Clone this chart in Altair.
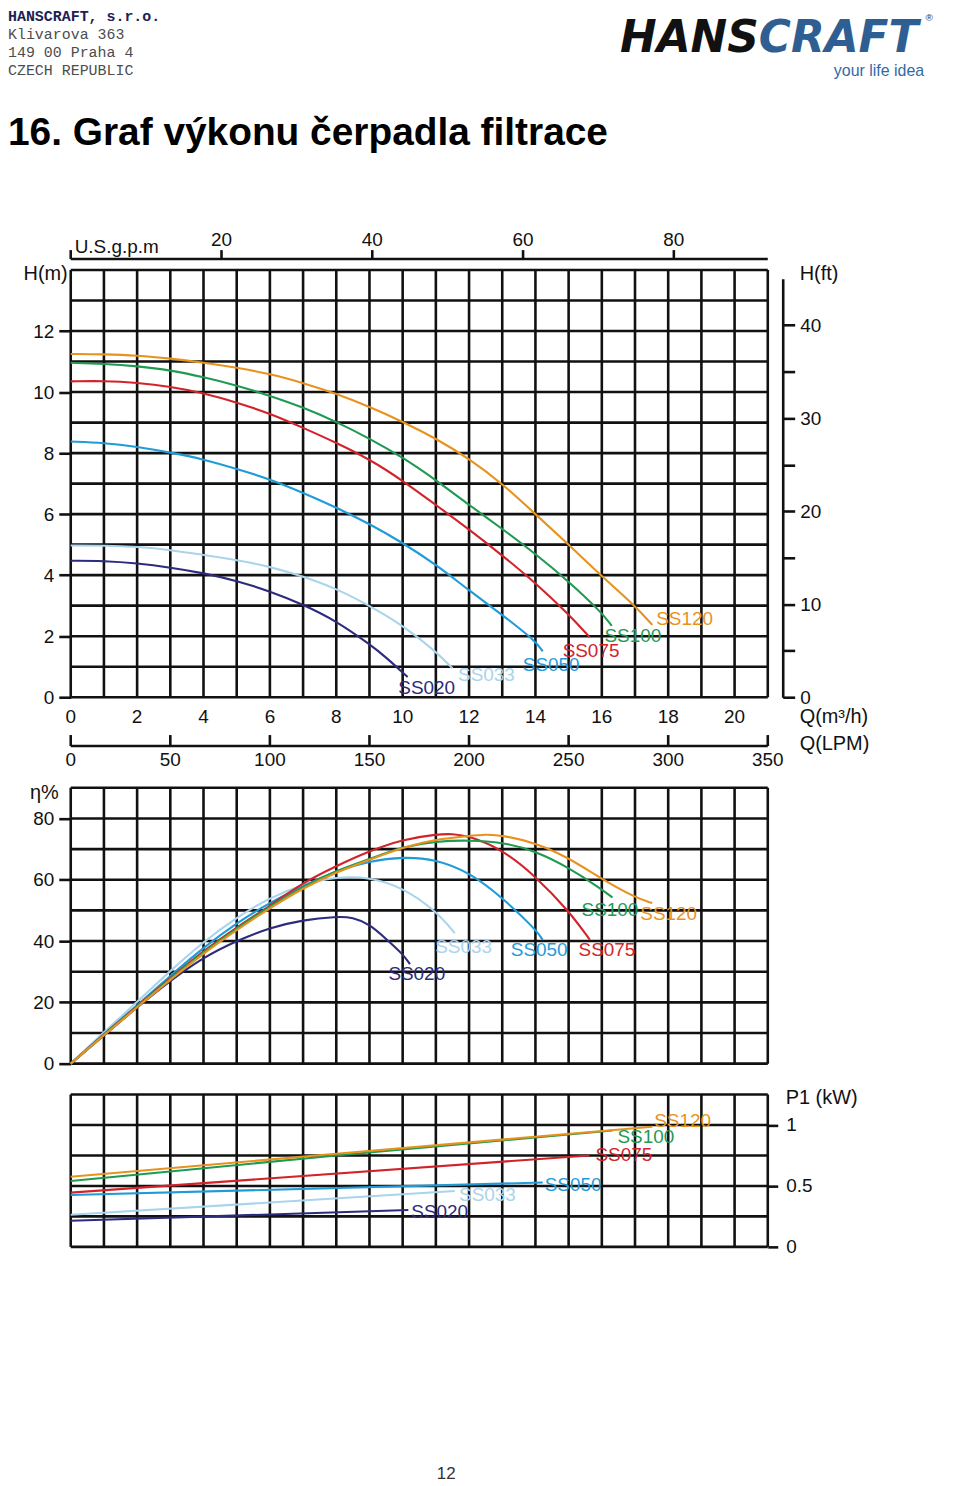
import altair as alt
import pandas as pd

# ---------------- data ----------------
PUMPS = ["SS020", "SS033", "SS050", "SS075", "SS100", "SS120"]
COLORS = ["#2d2b7c", "#a9d4ec", "#1f9bd7", "#d2232a", "#1f9a52", "#e8921e"]

# H-Q curves (Q in m3/h, H in m)
HQ_Q = {
    "SS020": [0, 1, 2, 3, 4, 5, 6, 7, 8, 9, 9.5, 10.15],
    "SS033": [0, 1, 2, 3, 4, 5, 6, 7, 8, 9, 10, 11, 11.5],
    "SS050": [0, 1, 2, 3, 4, 5, 6, 7, 8, 9, 10, 11, 12, 13, 14, 14.22],
    "SS075": [0, 1, 2, 3, 4, 5, 6, 7, 8, 9, 10, 11, 12, 13, 14, 15, 15.63],
    "SS100": [0, 1, 2, 3, 4, 5, 6, 7, 8, 9, 10, 11, 12, 13, 14, 15, 16, 16.3],
    "SS120": [0, 1, 2, 3, 4, 5, 6, 7, 8, 9, 10, 11, 12, 13, 14, 15, 16, 17, 17.52],
}
HQ_H = {
    "SS020": [4.47, 4.47, 4.39, 4.25, 4.07, 3.82, 3.47, 3.04, 2.5, 1.74, 1.31, 0.66],
    "SS033": [4.97, 4.97, 4.93, 4.83, 4.66, 4.5, 4.28, 3.96, 3.56, 3.0, 2.36, 1.5, 0.95],
    "SS050": [8.38, 8.34, 8.21, 8.02, 7.8, 7.48, 7.15, 6.7, 6.22, 5.68, 5.06, 4.35, 3.5, 2.7, 1.85, 1.5],
    "SS075": [10.35, 10.37, 10.31, 10.18, 9.97, 9.66, 9.3, 8.83, 8.34, 7.8, 7.1, 6.3, 5.5, 4.65, 3.75, 2.72, 1.97],
    "SS100": [10.96, 10.93, 10.85, 10.72, 10.49, 10.22, 9.88, 9.5, 9.03, 8.48, 7.86, 7.12, 6.3, 5.52, 4.7, 3.8, 2.77, 2.34],
    "SS120": [11.25, 11.24, 11.2, 11.1, 10.97, 10.8, 10.6, 10.3, 9.95, 9.52, 9.03, 8.48, 7.82, 7.0, 6.0, 5.0, 3.96, 3.0, 2.37],
}

# efficiency curves (Q in m3/h, eta in %)
EF_Q = {
    "SS020": [0, 1, 2, 3, 4, 5, 6, 7, 8, 8.5, 9, 9.5, 10, 10.22],
    "SS033": [0, 1, 2, 3, 4, 5, 6, 7, 8, 9, 10, 11, 11.57],
    "SS050": [0, 1, 2, 3, 4, 5, 6, 7, 8, 9, 10, 11, 12, 13, 14, 14.22],
    "SS075": [0, 1, 2, 3, 4, 5, 6, 7, 8, 9, 10, 11, 11.5, 12, 13, 14, 15, 15.64],
    "SS100": [0, 1, 2, 3, 4, 5, 6, 7, 8, 9, 10, 11, 12, 13, 14, 15, 16, 16.32],
    "SS120": [0, 1, 2, 3, 4, 5, 6, 7, 8, 9, 10, 11, 12, 12.5, 13, 14, 15, 16, 17, 17.52],
}
EF_E = {
    "SS020": [0, 9.2, 18.4, 27.1, 34.7, 40.1, 44.4, 46.9, 48.0, 47.8, 45.5, 40.7, 35.8, 32.5],
    "SS033": [0, 10.3, 20.1, 30.3, 39.8, 47.7, 54.2, 58.5, 61.0, 60.9, 57.5, 49.9, 42.6],
    "SS050": [0, 9.8, 19.0, 28.7, 37.9, 45.9, 52.6, 58.0, 62.9, 66.1, 67.5, 66.7, 62.5, 54.2, 43.9, 40.4],
    "SS075": [0, 9.5, 18.8, 28.0, 36.8, 44.5, 51.5, 59.1, 64.5, 69.4, 73.2, 74.8, 75.0, 74.3, 69.9, 61.2, 49.9, 40.4],
    "SS100": [0, 9.4, 18.6, 27.8, 36.5, 44.2, 51.3, 57.8, 63.0, 66.7, 70.8, 72.6, 72.9, 72.3, 69.4, 64.0, 56.9, 54.2],
    "SS120": [0, 9.3, 18.4, 27.4, 36.0, 43.6, 50.8, 57.3, 62.5, 66.5, 70.6, 73.2, 74.3, 74.8, 74.5, 72.1, 67.2, 60.2, 54.2, 52.4],
}

# power input P1 (Q in m3/h, P in kW)
PW_Q = {
    "SS020": [0, 10.17], "SS033": [0, 11.57], "SS050": [0, 14.22],
    "SS075": [0, 15.62], "SS100": [0, 8, 16.32], "SS120": [0, 8, 17.52],
}
PW_P = {
    "SS020": [0.214, 0.302], "SS033": [0.263, 0.458], "SS050": [0.425, 0.528],
    "SS075": [0.445, 0.75], "SS100": [0.54, 0.75, 0.955], "SS120": [0.575, 0.764, 0.986],
}

# curve label anchors (data units)
LBL_HQ_Q = [9.87, 11.67, 13.62, 14.82, 16.08, 17.64]
LBL_HQ_H = [0.29, 0.72, 1.04, 1.5, 2.02, 2.55]
LBL_EF_Q = [9.57, 10.98, 13.26, 15.3, 15.39, 17.16]
LBL_EF_E = [29.2, 38.0, 37.0, 37.0, 50.0, 48.7]
LBL_PW_Q = [10.26, 11.7, 14.28, 15.81, 16.47, 17.58]
LBL_PW_P = [0.286, 0.425, 0.507, 0.752, 0.899, 1.03]

# ticks / grid
Q_TICKS = [0, 2, 4, 6, 8, 10, 12, 14, 16, 18, 20]
LPM_TICKS = [0, 50, 100, 150, 200, 250, 300, 350]
GPM_TICKS = [0, 20, 40, 60, 80]
H_M_TICKS = [0, 2, 4, 6, 8, 10, 12]
H_FT_TICKS = [0, 5, 10, 15, 20, 25, 30, 35, 40]
EFF_TICKS = [0, 20, 40, 60, 80]
P_TICKS = [0, 0.5, 1]
Q_GRID = list(range(0, 22))
H_GRID = list(range(0, 15))
EFF_GRID = list(range(0, 100, 10))
P_GRID = [0, 0.25, 0.5, 0.75, 1.0, 1.25]

M3H_PER_LPM = 0.06
M3H_PER_GPM = 0.2271247
FT_PER_M = 3.28084

# ---------------- layout / style ----------------
PLOT_W, PLOT_H = 700, 981
R_H = (429, 0)        # H-Q panel pixel range
R_E = (797, 520)      # efficiency panel
R_P = (981, 828)      # power panel
FT_TOP = R_H[0] - 45 / FT_PER_M * (R_H[0] - R_H[1]) / 14
FONT = "Liberation Sans"
INK = "#111111"
GW = 2.6

xscale = alt.Scale(domain=[0, 21], nice=False, zero=False)


def xq(field):
    return alt.X(f"{field}:Q", scale=xscale, axis=None)


def yscale(domain, rng):
    return alt.Scale(domain=list(domain), range=list(rng), nice=False, zero=False)


color = alt.Color("pump:N", scale=alt.Scale(domain=PUMPS, range=COLORS), legend=None)


def long_df(qd, vd):
    rows = []
    for p in PUMPS:
        for q, v in zip(qd[p], vd[p]):
            rows.append({"pump": p, "q": q, "v": v})
    return pd.DataFrame(rows)


def yaxis(values, orient, tick, pad, offset=0, fmt=None, label_expr=None, domain=False):
    kw = dict(orient=orient, values=values, title=None, grid=False, domain=domain,
              ticks=True, tickSize=tick, tickWidth=GW, tickColor=INK,
              labelFont=FONT, labelFontSize=19, labelColor=INK, labelPadding=pad,
              labelFlush=False, labelOverlap=False, offset=offset)
    if domain:
        kw.update(domainColor=INK, domainWidth=GW)
    if fmt:
        kw["format"] = fmt
    if label_expr:
        kw["labelExpr"] = label_expr
    return alt.Axis(**kw)


def panel(grid_vals, dom, rng, axis, qd, vd, lq, lv, interp):
    ys = yscale(dom, rng)
    hgrid = alt.Chart(pd.DataFrame({"v": grid_vals, "a": 0.0, "b": 21.0})).mark_rule(
        color=INK, strokeWidth=GW).encode(x=xq("a"), x2="b", y=alt.Y("v:Q", scale=ys, axis=axis))
    vgrid = alt.Chart(pd.DataFrame({"q": Q_GRID, "lo": dom[0], "hi": dom[1]})).mark_rule(
        color=INK, strokeWidth=GW).encode(x=xq("q"), y=alt.Y("lo:Q", scale=ys, axis=None), y2="hi")
    lines = alt.Chart(long_df(qd, vd)).mark_line(strokeWidth=2.1, interpolate=interp).encode(
        x=xq("q"), y=alt.Y("v:Q", scale=ys, axis=None), color=color)
    labels = alt.Chart(pd.DataFrame({"pump": PUMPS, "q": lq, "v": lv})).mark_text(
        align="left", baseline="middle", fontSize=19, font=FONT).encode(
        x=xq("q"), y=alt.Y("v:Q", scale=ys, axis=None), text="pump:N", color=color)
    return [hgrid, vgrid, lines, labels]


def txt(text, x, y, size=20, align="left", baseline="middle", font=FONT, col=INK, **kw):
    return alt.Chart(pd.DataFrame({"t": [text]})).mark_text(
        align=align, baseline=baseline, fontSize=size, font=font, color=col, **kw).encode(
        x=alt.value(x), y=alt.value(y), text="t:N")


layers = []

# ----- panel 1: H-Q -----
layers += panel(H_GRID, (0, 14), R_H, yaxis(H_M_TICKS, "left", 12, 5),
                HQ_Q, HQ_H, LBL_HQ_Q, LBL_HQ_H, "basis")
layers.append(
    alt.Chart(pd.DataFrame({"ft": H_FT_TICKS})).mark_point(opacity=0).encode(
        y=alt.Y("ft:Q", scale=yscale((0, 45), (R_H[0], FT_TOP)),
                axis=yaxis(H_FT_TICKS, "right", 12, 5, offset=15, domain=True,
                           label_expr="datum.value % 10 === 0 ? datum.label : ''")))
)

# ----- panel 2: efficiency -----
layers += panel(EFF_GRID, (0, 90), R_E, yaxis(EFF_TICKS, "left", 12, 5),
                EF_Q, EF_E, LBL_EF_Q, LBL_EF_E, "basis")

# ----- panel 3: power -----
layers += panel(P_GRID, (0, 1.25), R_P, yaxis(P_TICKS, "right", 10, 8, fmt=".1~f"),
                PW_Q, PW_P, LBL_PW_Q, LBL_PW_P, "linear")

# ----- Q (m3/h) labels under panel 1 -----
layers.append(
    alt.Chart(pd.DataFrame({"q": Q_TICKS})).mark_text(
        font=FONT, fontSize=19, color=INK, baseline="middle").encode(
        x=xq("q"), y=alt.value(449), text=alt.Text("q:Q", format="d"))
)

# ----- LPM axis -----
lpm_df = pd.DataFrame({"lpm": LPM_TICKS})
layers.append(
    alt.Chart(lpm_df).transform_calculate(q=f"datum.lpm * {M3H_PER_LPM}").mark_rule(
        color=INK, strokeWidth=GW).encode(x=xq("q"), y=alt.value(467), y2=alt.value(478))
)
layers.append(
    alt.Chart(pd.DataFrame({"l0": [LPM_TICKS[0]], "l1": [LPM_TICKS[-1]]})).transform_calculate(
        q0=f"datum.l0 * {M3H_PER_LPM}", q1=f"datum.l1 * {M3H_PER_LPM}").mark_rule(
        color=INK, strokeWidth=GW).encode(x=xq("q0"), x2="q1", y=alt.value(478))
)
layers.append(
    alt.Chart(lpm_df).transform_calculate(q=f"datum.lpm * {M3H_PER_LPM}").mark_text(
        font=FONT, fontSize=19, color=INK, baseline="middle").encode(
        x=xq("q"), y=alt.value(492), text=alt.Text("lpm:Q", format="d"))
)

# ----- U.S. gpm axis on top -----
gpm_df = pd.DataFrame({"gpm": GPM_TICKS})
layers.append(
    alt.Chart(gpm_df).transform_calculate(q=f"datum.gpm * {M3H_PER_GPM}").mark_rule(
        color=INK, strokeWidth=GW).encode(x=xq("q"), y=alt.value(-20), y2=alt.value(-11))
)
layers.append(
    alt.Chart(pd.DataFrame({"a": [0.0], "b": [21.0]})).mark_rule(
        color=INK, strokeWidth=GW).encode(x=xq("a"), x2="b", y=alt.value(-11))
)
layers.append(
    alt.Chart(gpm_df).transform_filter("datum.gpm > 0").transform_calculate(
        q=f"datum.gpm * {M3H_PER_GPM}").mark_text(
        font=FONT, fontSize=19, color=INK, baseline="middle").encode(
        x=xq("q"), y=alt.value(-30), text=alt.Text("gpm:Q", format="d"))
)

# ----- axis titles -----
layers += [
    txt("U.S.g.p.m", 4, -23, size=19),
    txt("H(m)", -3, 4, align="right"),
    txt("H(ft)", 732, 4),
    txt("Q(m³/h)", 732, 449),
    txt("Q(LPM)", 732, 476),
    txt("η%", -41, 525),
    txt("P1 (kW)", 718, 832),
]

# ----- page header / title / footer -----
layers += [
    txt("HANSCRAFT, s.r.o.", -63, -250, size=15, baseline="alphabetic",
        font="Liberation Mono", col="#1c2352", fontWeight="bold"),
    txt("Klivarova 363", -63, -232, size=15, baseline="alphabetic",
        font="Liberation Mono", col="#4d4d4d"),
    txt("149 00 Praha 4", -63, -214, size=15, baseline="alphabetic",
        font="Liberation Mono", col="#4d4d4d"),
    txt("CZECH REPUBLIC", -63, -196, size=15, baseline="alphabetic",
        font="Liberation Mono", col="#4d4d4d"),
    txt("HANS", 691, -219, size=44, align="right", baseline="alphabetic",
        font="DejaVu Sans", col="#111111", fontWeight="bold", fontStyle="italic"),
    txt("CRAFT", 691, -219, size=44, baseline="alphabetic",
        font="DejaVu Sans", col="#2f5f92", fontWeight="bold", fontStyle="italic"),
    txt("your life idea", 857, -195, size=16, align="right", baseline="alphabetic",
        col="#2f6aa8"),
    txt("®", 862, -250, size=10, align="center", baseline="alphabetic", col="#333333"),
    txt("16. Graf výkonu čerpadla filtrace", -63, -126, size=39, baseline="alphabetic",
        fontWeight="bold", col="#000000"),
    txt("12", 377, 1214, size=17, align="center", baseline="alphabetic", col="#333333"),
]

chart = alt.layer(*layers).resolve_scale(y="independent").properties(
    width=PLOT_W, height=PLOT_H,
    autosize=alt.AutoSizeParams(type="none"),
    padding={"left": 63, "top": 260, "right": 185, "bottom": 235},
).configure(font=FONT).configure_view(stroke=None)

chart.save("out.html", embed_options={"renderer": "svg", "actions": False})
